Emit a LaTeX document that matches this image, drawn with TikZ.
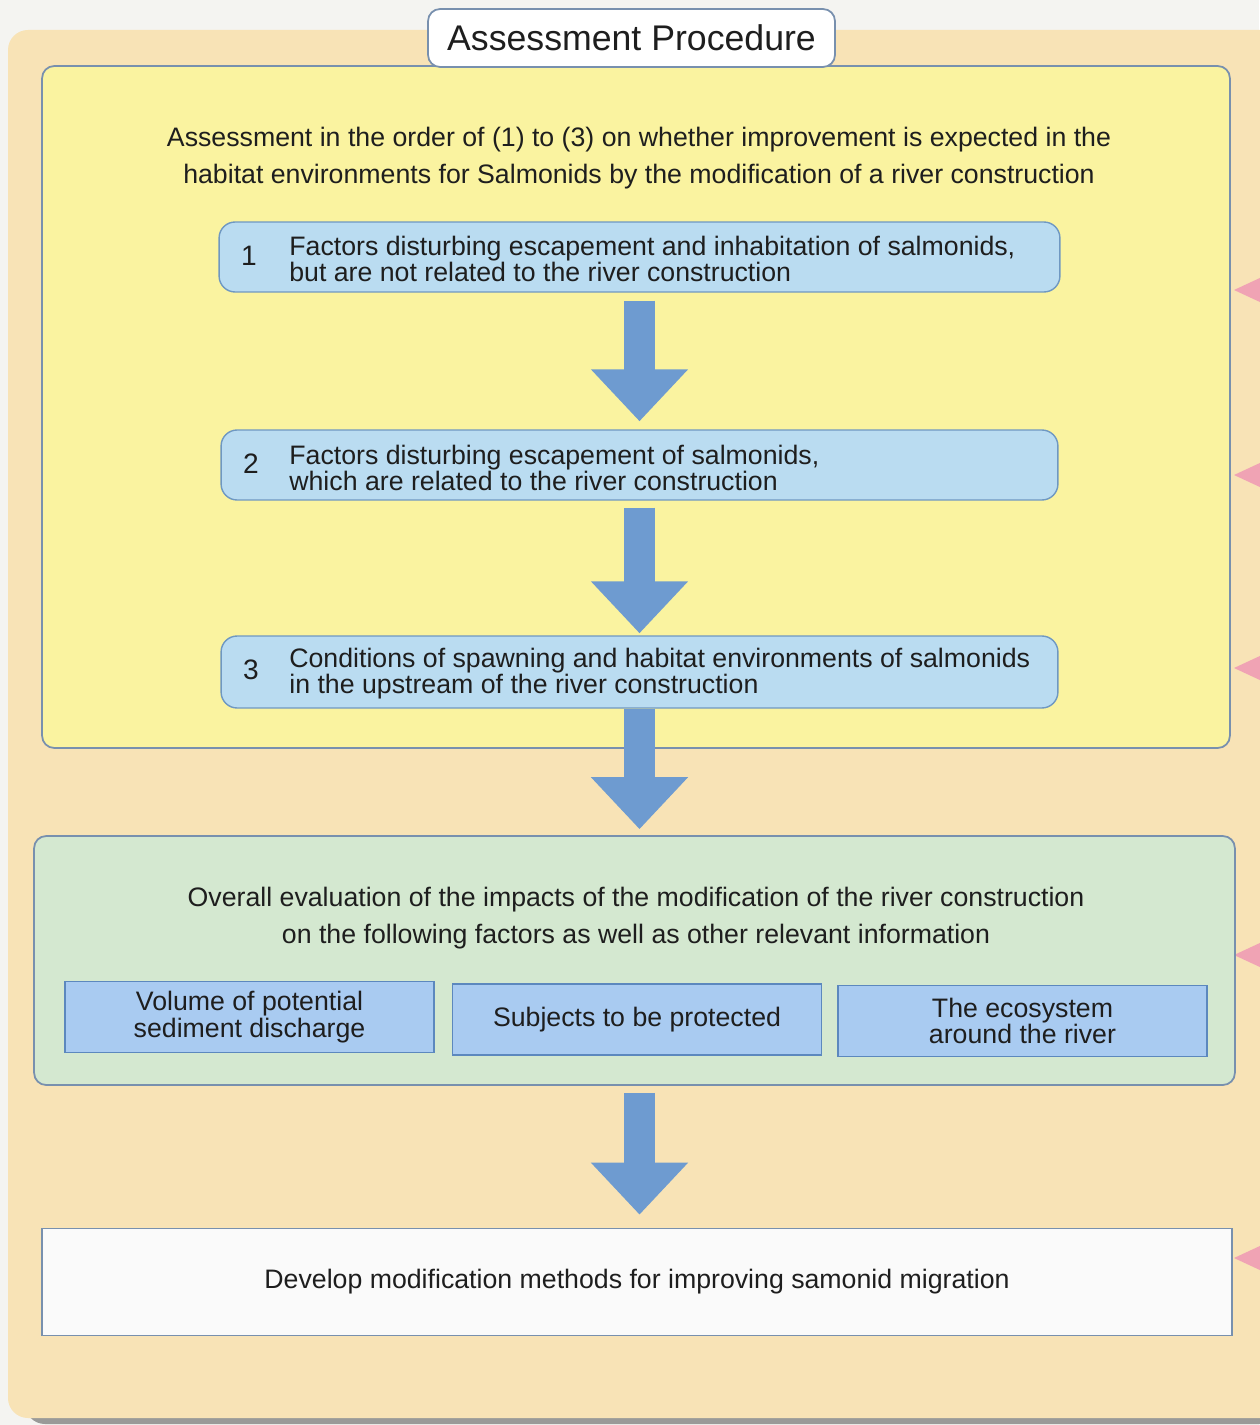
\documentclass[tikz,border=0pt]{standalone}
\usepackage{fontspec}
\setmainfont{Liberation Sans}
\usetikzlibrary{arrows.meta}
\definecolor{bgc}{HTML}{F4F4F1}
\definecolor{tanc}{HTML}{F8E3B6}
\definecolor{shadowc}{HTML}{9A9A98}
\definecolor{yellowc}{HTML}{FAF3A0}
\definecolor{panelborder}{HTML}{7890AE}
\definecolor{stepfill}{HTML}{BADCF1}
\definecolor{stepborder}{HTML}{6F98C2}
\definecolor{arrowc}{HTML}{6E9BD0}
\definecolor{greenc}{HTML}{D4E8D0}
\definecolor{subfill}{HTML}{A9CBF1}
\definecolor{subborder}{HTML}{5C88BE}
\definecolor{whitec}{HTML}{FAFAFA}
\definecolor{pinkc}{HTML}{F0A3B4}
\definecolor{textc}{HTML}{1E1E1E}
\begin{document}
\begin{tikzpicture}[x=0.02cm,y=-0.02cm,
  every node/.style={text=textc},
  panel/.style={draw=panelborder, line width=1pt, rounded corners=0.24cm, inner sep=0pt},
  stepbox/.style={draw=stepborder, fill=stepfill, line width=0.8pt, rounded corners=0.32cm, minimum height=1.4cm, inner sep=0pt},
  subbox/.style={draw=subborder, fill=subfill, line width=1pt, minimum width=7.38cm, minimum height=1.42cm, align=center, inner sep=0pt, font=\fontsize{15.2}{15.3}\selectfont},
  steptext/.style={anchor=west, align=left, inner sep=0pt, font=\fontsize{15.2}{14.8}\selectfont},
  stepnum/.style={inner sep=0pt, font=\fontsize{16}{16}\selectfont},
  bodytext/.style={align=center, inner sep=0pt, font=\fontsize{15.2}{21}\selectfont},
  flowarrow/.style={draw=arrowc, line width=0.62cm, -{Triangle[width=1.88cm,length=1.04cm]}}
]
\useasboundingbox (0,0) rectangle (1259,1425);
\fill[bgc] (0,0) rectangle (1259,1425);
% outer panel with shadow
\fill[shadowc, rounded corners=0.4cm] (25,1380) rectangle (1290,1424);
\fill[tanc, rounded corners=0.4cm] (8,30) rectangle (1290,1418);
% pink markers
\foreach \yy in {290,475,668,955,1258}
  \fill[pinkc] (1234,\yy) -- (1262,\yy-13) -- (1262,\yy+13) -- cycle;
% yellow panel
\node[panel, fill=yellowc, minimum width=23.76cm, minimum height=13.64cm] (yellow) at (636,407) {};
% title
\node[draw=panelborder, fill=white, line width=1pt, rounded corners=0.24cm, minimum width=8.14cm, minimum height=1.16cm, inner sep=0pt, font=\fontsize{20.3}{22}\selectfont] (title) at (631.5,38) {Assessment Procedure};
% header text
\node[bodytext] (head) at (639,158) {Assessment in the order of (1) to (3) on whether improvement is expected in the\\habitat environments for Salmonids by the modification of a river construction};
% steps
\node[stepbox, minimum width=16.82cm] (box1) at (639.5,257) {};
\node[stepnum] (n1) at (249,256) {1};
\node[steptext] (t1) at (289,259) {Factors disturbing escapement and inhabitation of salmonids,\\but are not related to the river construction};
\node[stepbox, minimum width=16.74cm] (box2) at (639.5,465) {};
\node[stepnum] (n2) at (251,464) {2};
\node[steptext] (t2) at (289,468) {Factors disturbing escapement of salmonids,\\which are related to the river construction};
\node[stepbox, minimum width=16.74cm, minimum height=1.44cm] (box3) at (639.5,672) {};
\node[stepnum] (n3) at (251,670) {3};
\node[steptext] (t3) at (289,674) {Conditions of spawning and habitat environments of salmonids\\in the upstream of the river construction};
% green panel
\node[panel, fill=greenc, minimum width=24.02cm, minimum height=4.98cm] (green) at (634.5,960.5) {};
\node[bodytext, font=\fontsize{15.2}{21.5}\selectfont] (ghead) at (636,918) {Overall evaluation of the impacts of the modification of the river construction\\on the following factors as well as other relevant information};
\node[subbox] (sa) at (249.5,1017) {Volume of potential\\sediment discharge};
\node[subbox] (sb) at (637,1019.5) {Subjects to be protected};
\node[subbox] (sc) at (1022.5,1021) {The ecosystem\\around the river};
% final box
\node[draw=panelborder, fill=whitec, line width=1pt, minimum width=23.8cm, minimum height=2.14cm, inner sep=0pt, font=\fontsize{15.2}{16}\selectfont] (final) at (637,1282) {Develop modification methods for improving samonid migration};
% arrows
\draw[flowarrow, shorten <=0.16cm, shorten >=0.16cm] (box1.south) -- (box2.north);
\draw[flowarrow, shorten <=0.14cm, shorten >=0.04cm] (box2.south) -- (box3.north);
\draw[flowarrow, shorten >=0.12cm] (box3.south) -- (green.north -| box3.south);
\draw[flowarrow, shorten <=0.14cm, shorten >=0.26cm] (green.south -| box3.south) -- (final.north -| box3.south);
\end{tikzpicture}
\end{document}
